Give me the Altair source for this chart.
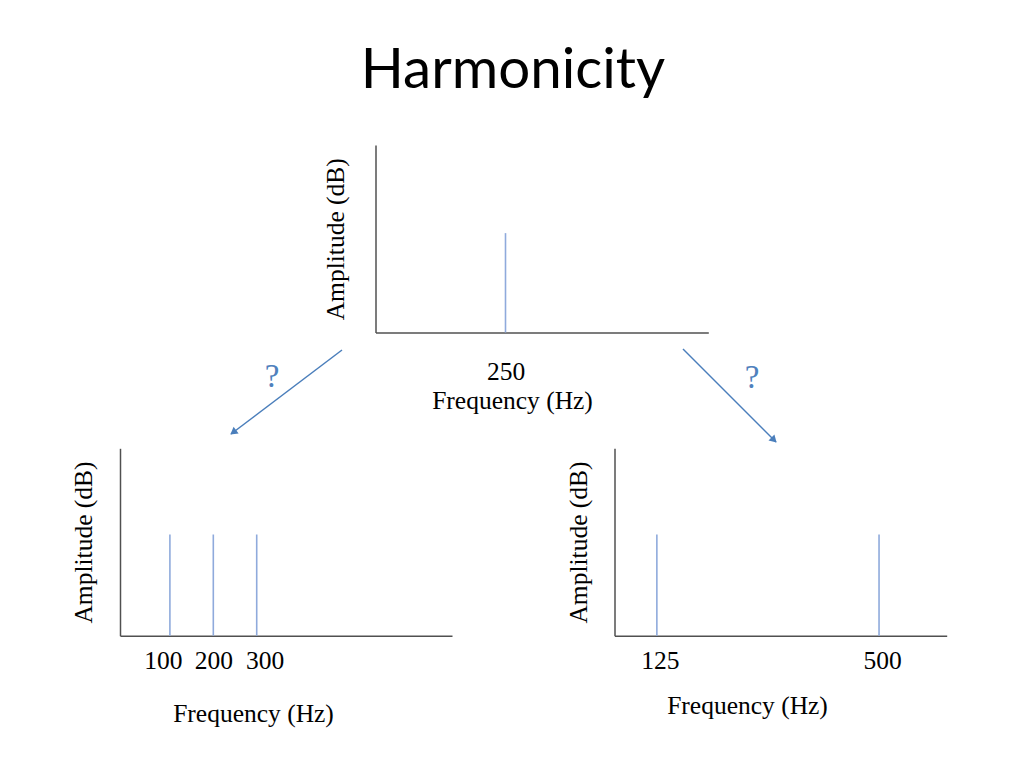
import math
import altair as alt
import pandas as pd

W, H = 1008, 752
SERIF = "Liberation Serif"
LINE_COLOR = "#8FAADC"
AXIS_COLOR = "#505050"
BLUE = "#4A7EBB"
FS = 25.5

# ---- data ----
top_freq = [250]
top_amp = [0.53]
left_freq = [100, 200, 300]
left_amp = [0.54, 0.54, 0.54]
right_freq = [125, 500]
right_amp = [0.54, 0.54]

x_title = "Frequency (Hz)"
y_title = "Amplitude (dB)"
main_title = ["Harmonicity"]

# annotation (slide/page coordinates)
arrow_x1 = [342, 683]
arrow_y1 = [350, 349]
arrow_x2 = [231, 776]
arrow_y2 = [434, 442]
qmark_text = ["?", "?"]
qmark_x = [272, 752]
qmark_y = [377, 378]
title_x = [513]
title_y = [88]


def panel(freqs, amps, domain, axis_x, axis_y, x_end, y_top, label_pad,
          xtitle_x, xtitle_dy, ytitle_dx, label_offset=0):
    df = pd.DataFrame({"freq": freqs, "amp": amps, "base": [0] * len(freqs)})
    xr = [axis_x - 8, x_end - 8]
    yr = [axis_y - 8, y_top - 8]
    return alt.Chart(df).mark_rule(color=LINE_COLOR, strokeWidth=1.6).encode(
        x=alt.X(
            "freq:Q",
            scale=alt.Scale(domain=domain, range=xr, nice=False, zero=False),
            axis=alt.Axis(
                orient="bottom", offset=(axis_y - 8) - H, values=freqs,
                grid=False, ticks=False, tickSize=0,
                domainColor=AXIS_COLOR, domainWidth=1.5,
                labelFont=SERIF, labelFontSize=FS, labelColor="black",
                labelPadding=label_pad, labelOverlap=False, labelFlush=False,
                labelOffset=label_offset,
                title=x_title, titleFont=SERIF, titleFontSize=FS,
                titleFontWeight="normal", titleColor="black",
                titleX=xtitle_x - 8, titleY=xtitle_dy,
                titleAlign="center", titleBaseline="alphabetic",
            ),
        ),
        y=alt.Y(
            "base:Q",
            scale=alt.Scale(domain=[0, 1], range=yr, nice=False, zero=False),
            axis=alt.Axis(
                orient="left", offset=-(axis_x - 8),
                grid=False, ticks=False, labels=False,
                domainColor=AXIS_COLOR, domainWidth=1.5,
                title=y_title, titleFont=SERIF, titleFontSize=FS,
                titleFontWeight="normal", titleColor="black",
                titleAngle=270, titleX=ytitle_dx,
                titleY=((axis_y + y_top) / 2) - 8,
                titleAlign="center", titleBaseline="alphabetic",
            ),
        ),
        y2="amp:Q",
    )


top = panel(top_freq, top_amp, [0, 640], 375.5, 332.5, 708.3, 145, 26.5,
            512, 75.5, -32.5)
left_offset = {"condition": [{"test": "datum.value == 100", "value": -7},
                             {"test": "datum.value == 300", "value": 8}],
               "value": 0}
left = panel(left_freq, left_amp, [-15, 750], 120, 635.7, 452, 448.3, 12.5,
             253, 85.3, -28.3, left_offset)
right = panel(right_freq, right_amp, [53.5, 614.2], 614.5, 635.7, 946.7, 448.3, 12.5,
              747, 77.3, -28.3, 3)

AX = alt.Scale(domain=[8, W + 8], range=[0, W], nice=False, zero=False)
AY = alt.Scale(domain=[8, H + 8], range=[0, H], nice=False, zero=False)

arrows = pd.DataFrame({"x1": arrow_x1, "y1": arrow_y1, "x2": arrow_x2, "y2": arrow_y2})
# arrow-head placement and direction derived from the arrow endpoints
hx, hy, ang = [], [], []
for a, b, c, d in zip(arrow_x1, arrow_y1, arrow_x2, arrow_y2):
    dx, dy = c - a, d - b
    L = math.hypot(dx, dy)
    hx.append(c - 4 * dx / L)
    hy.append(d - 4 * dy / L)
    ang.append(math.degrees(math.atan2(dx, -dy)) % 360)
heads = pd.DataFrame({"x": hx, "y": hy, "ang": ang})

arrow_lines = alt.Chart(arrows).mark_rule(color=BLUE, strokeWidth=1.5).encode(
    x=alt.X("x1:Q", scale=AX, axis=None),
    y=alt.Y("y1:Q", scale=AY, axis=None),
    x2="x2:Q", y2="y2:Q",
)
arrow_heads = alt.Chart(heads).mark_point(
    shape="triangle", filled=True, color=BLUE, size=70, opacity=1
).encode(
    x=alt.X("x:Q", scale=AX, axis=None),
    y=alt.Y("y:Q", scale=AY, axis=None),
    angle=alt.Angle("ang:Q", scale=None),
)
qmarks = alt.Chart(pd.DataFrame({"t": qmark_text, "x": qmark_x, "y": qmark_y})).mark_text(
    font=SERIF, fontSize=33, color="#4F81BD", align="center", baseline="middle"
).encode(
    x=alt.X("x:Q", scale=AX, axis=None),
    y=alt.Y("y:Q", scale=AY, axis=None),
    text="t:N",
)
title = alt.Chart(pd.DataFrame({"t": main_title, "x": title_x, "y": title_y})).mark_text(
    font="Lato", fontSize=56.5, color="black", align="center", baseline="alphabetic"
).encode(
    x=alt.X("x:Q", scale=AX, axis=None),
    y=alt.Y("y:Q", scale=AY, axis=None),
    text="t:N",
)

chart = alt.layer(top, left, right, arrow_lines, arrow_heads, qmarks, title).resolve_scale(
    x="independent", y="independent"
).properties(
    width=W, height=H, autosize=alt.AutoSizeParams(type="none"), padding=0,
    background="white",
).configure_view(strokeWidth=0)

chart.save("out.html", embed_options={"renderer": "svg", "actions": False})
